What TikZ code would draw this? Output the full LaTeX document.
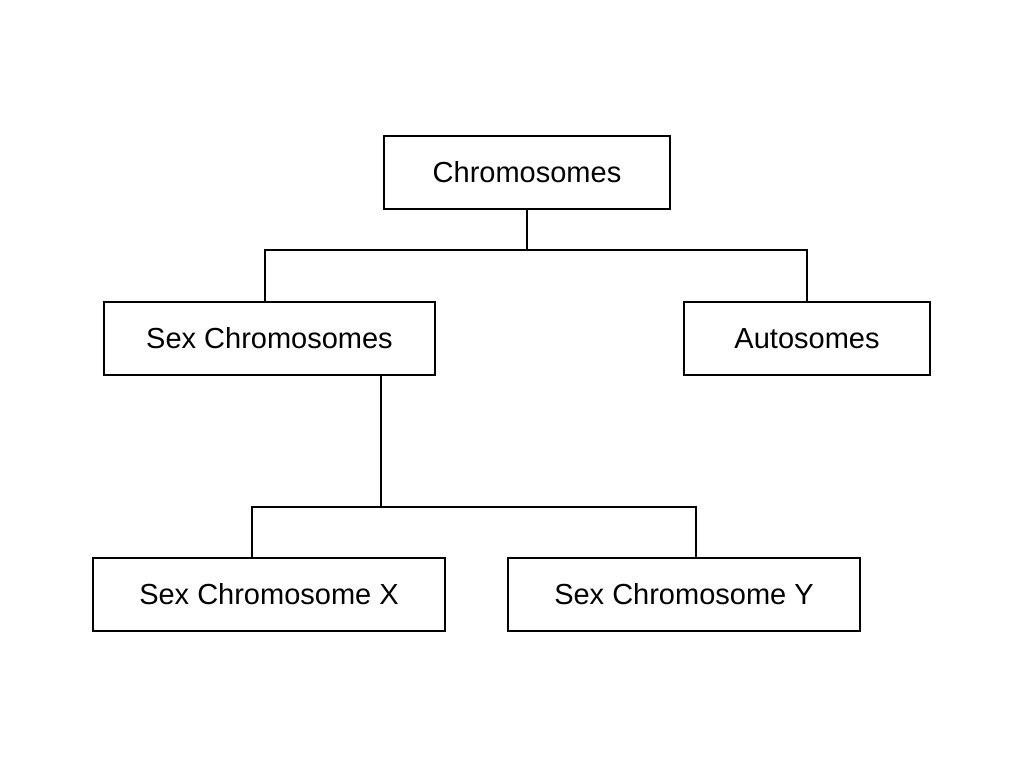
\documentclass[tikz,border=0pt]{standalone}
\usepackage{fontspec}
\setmainfont{Liberation Sans}
\begin{document}
\begin{tikzpicture}[x=1pt,y=-1pt,-,line width=1.5pt,box/.style={draw,rectangle,minimum height=73pt,inner sep=0pt,font=\fontsize{29}{34}\selectfont}]

            \useasboundingbox (0,0) rectangle (1024,768);

            \node[box, minimum width=286pt] (chrom) at (527,172.5) {Chromosomes};
            \node[box, minimum width=331pt] (sex) at (269.5,338.5) {Sex Chromosomes};
            \node[box, minimum width=246pt] (auto) at (807,338.5) {Autosomes};
            \node[box, minimum width=352pt] (x) at (269,594.5) {Sex Chromosome X};
            \node[box, minimum width=352pt] (y) at (684,594.5) {Sex Chromosome Y};

            \coordinate (j1) at (527,250);
            \coordinate (j2) at (381,507);

            \draw (chrom.south) -- (j1);
            \draw (j1) -| ([xshift=-4.5pt]sex.north);
            \draw (j1) -| (auto.north);
            \draw ([xshift=111.5pt]sex.south) -- (j2);
            \draw (j2) -| ([xshift=-17pt]x.north);
            \draw (j2) -| ([xshift=12pt]y.north);

        \end{tikzpicture}
\end{document}
